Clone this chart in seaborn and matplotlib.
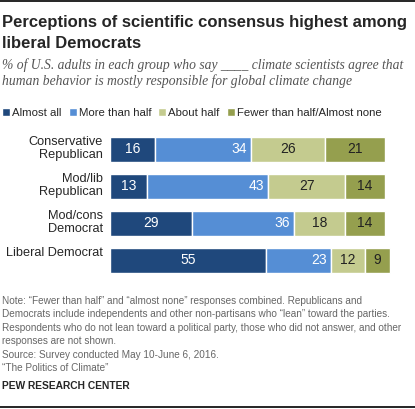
import matplotlib
matplotlib.use('Agg')
import matplotlib.pyplot as plt
import matplotlib.transforms as mtrans
import seaborn as sns
import pandas as pd
import numpy as np

groups = ['Conservative\nRepublican', 'Mod/lib\nRepublican', 'Mod/cons\nDemocrat', 'Liberal Democrat']
categories = ['Almost all', 'More than half', 'About half', 'Fewer than half/Almost none']
almost_all = [16, 13, 29, 55]
more_than_half = [34, 43, 36, 23]
about_half = [26, 27, 18, 12]
fewer = [21, 14, 14, 9]
colors = ['#1F487C', '#558ED5', '#C4CB8F', '#959F4E']

sns.set_style('white')
plt.rcParams['font.family'] = ['Liberation Sans', 'DejaVu Sans']

df = pd.DataFrame({'group': groups, categories[0]: almost_all, categories[1]: more_than_half,
                   categories[2]: about_half, categories[3]: fewer})

fig = plt.figure(figsize=(4.15, 4.09), dpi=100)
ax = fig.add_axes([0.265, 0.318, 0.682, 0.362])

left = np.zeros(len(groups))
for i, cat in enumerate(categories):
    vals = df[cat].values
    sns.barplot(x=vals, y=df['group'], left=left, color=colors[i], orient='h',
                width=0.67, ax=ax, label=cat, saturation=1)
    for j, v in enumerate(vals):
        tc = 'white' if i < 2 else '#222222'
        if i == 1:
            ax.text(left[j] + v - 1.5, j, str(v), ha='right', va='center', color=tc, fontsize=10)
        else:
            ax.text(left[j] + v / 2, j, str(v), ha='center', va='center', color=tc, fontsize=10)
    left += vals

ax.set_xlim(0, 100)
ax.set_ylim(3.5, -0.5)
ax.set_xlabel('')
ax.set_ylabel('')
ax.set_xticks([])
ax.set_yticks(range(len(groups)))
ax.set_yticklabels(groups, fontsize=9.2, ha='right', va='top', linespacing=1.05)
ax.tick_params(axis='y', length=0, pad=5)
offset = mtrans.ScaledTranslation(0, 13 / 100, fig.dpi_scale_trans)
for lbl in ax.get_yticklabels():
    lbl.set_transform(lbl.get_transform() + offset)
sns.despine(ax=ax, left=True, bottom=True)

handles, labels = ax.get_legend_handles_labels()
fig.legend(handles, labels, loc='center left', bbox_to_anchor=(0.005, 1 - 113 / 409), ncol=4,
           frameon=False, fontsize=8.2, handlelength=0.7, handleheight=0.7, handletextpad=0.2,
           columnspacing=0.6, borderaxespad=0, borderpad=0)
if ax.get_legend():
    ax.get_legend().remove()

def fy(py):
    return 1 - py / 409

fig.add_artist(plt.Line2D([0.0, 1.0], [fy(1), fy(1)], color='black', lw=1.2))
fig.add_artist(plt.Line2D([0.0, 1.0], [fy(407), fy(407)], color='black', lw=1.2))
fig.text(0.005, fy(22), 'Perceptions of scientific consensus highest among', fontsize=12,
         fontweight='bold', va='center')
fig.text(0.005, fy(43), 'liberal Democrats', fontsize=12, fontweight='bold', va='center')
fig.text(0.005, fy(65), '% of U.S. adults in each group who say ____ climate scientists agree that',
         fontsize=9.8, style='italic', family='Liberation Serif', color='#555555', va='center')
fig.text(0.005, fy(81), 'human behavior is mostly responsible for global climate change',
         fontsize=9.8, style='italic', family='Liberation Serif', color='#555555', va='center')

notes = ['Note: \u201cFewer than half\u201d and \u201calmost none\u201d responses combined. Republicans and',
         'Democrats include independents and other non-partisans who \u201clean\u201d toward the parties.',
         'Respondents who do not lean toward a political party, those who did not answer, and other',
         'responses are not shown.',
         'Source: Survey conducted May 10-June 6, 2016.',
         '\u201cThe Politics of Climate\u201d']
for k, line in enumerate(notes):
    fig.text(0.005, fy(301 + k * 13.4), line, fontsize=7.2, color='#666666', va='center')
fig.text(0.005, fy(386), 'PEW RESEARCH CENTER', fontsize=7.4, fontweight='bold', va='center')

fig.savefig('out.png', dpi=100)
